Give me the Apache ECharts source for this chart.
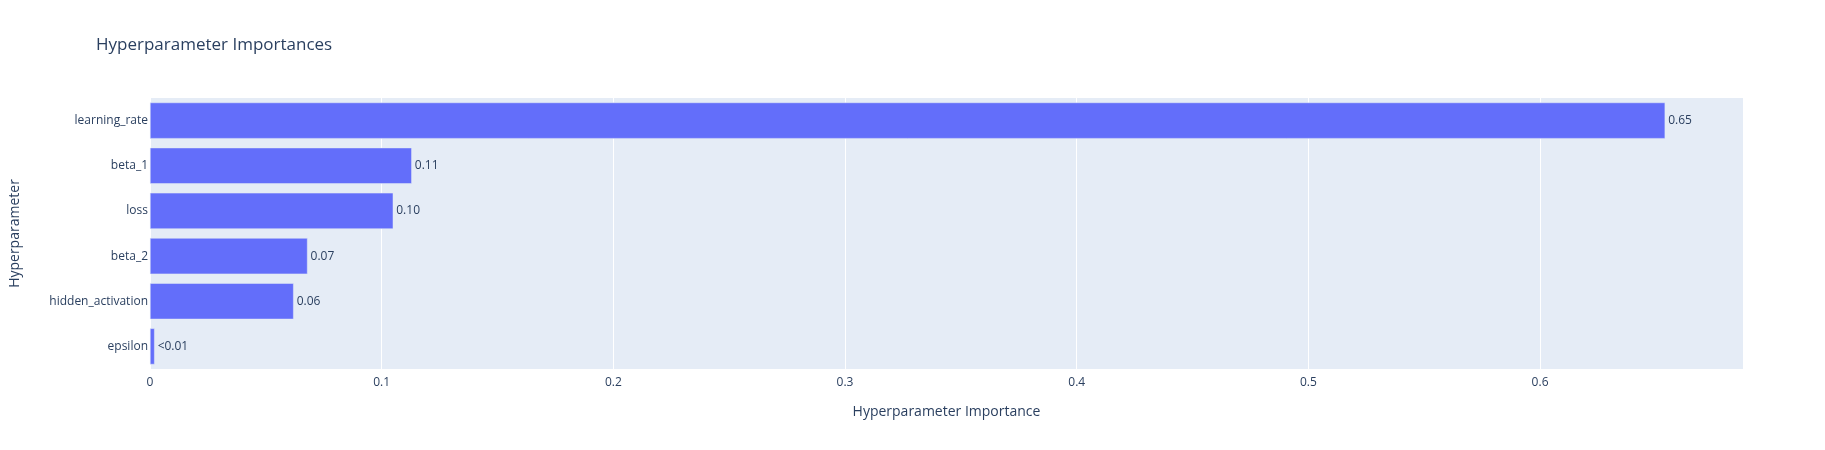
<!DOCTYPE html>
<html><head><meta charset="utf-8">
<script src="https://cdn.jsdelivr.net/npm/echarts@6/dist/echarts.min.js"></script>
<style>html,body{margin:0;padding:0;background:#fff}#c{width:1825px;height:450px}</style>
</head><body><div id="c"></div>
<script>
const params = ['epsilon', 'hidden_activation', 'beta_2', 'loss', 'beta_1', 'learning_rate'];
const importances = [0.002, 0.062, 0.068, 0.105, 0.113, 0.654];
const labels = ['<0.01', '0.06', '0.07', '0.10', '0.11', '0.65'];

const chart = echarts.init(document.getElementById('c'));
const FONT = '"Open Sans", Verdana, Arial, sans-serif';
const TXT = '#2a3f5f';
chart.setOption({
    animation: false,
    textStyle: { fontFamily: FONT, color: TXT },
    title: { text: 'Hyperparameter Importances', left: 91, top: 32,
             textStyle: { fontFamily: FONT, fontSize: 17, fontWeight: 'normal', color: TXT } },
    grid: { left: 141, right: 82, top: 98, bottom: 81, backgroundColor: '#e5ecf6', show: true, borderWidth: 0 },
    xAxis: {
        type: 'value', min: 0, max: 0.6876, interval: 0.1,
        name: 'Hyperparameter Importance', nameLocation: 'middle', nameGap: 36,
        nameTextStyle: { fontSize: 14, color: TXT },
        axisLine: { show: false }, axisTick: { show: false },
        splitLine: { lineStyle: { color: '#fff', width: 1 } },
        axisLabel: { color: TXT, fontSize: 12, formatter: v => v === 0 ? '0' : String(+v.toFixed(1)), showMaxLabel: false }
    },
    yAxis: {
        type: 'category', data: params,
        name: 'Hyperparameter', nameLocation: 'middle', nameGap: 128,
        nameTextStyle: { fontSize: 14, color: TXT },
        axisLine: { show: false }, axisTick: { show: false },
        axisLabel: { color: TXT, fontSize: 12, margin: 2 }
    },
    series: [{
        type: 'bar', data: importances, barCategoryGap: '20%',
        itemStyle: { color: '#636efa', borderColor: '#e5ecf6', borderWidth: 0.5 },
        label: { show: true, position: 'right', distance: 3, fontSize: 12, color: TXT,
                 formatter: p => labels[p.dataIndex] }
    }]
});
</script></body></html>
